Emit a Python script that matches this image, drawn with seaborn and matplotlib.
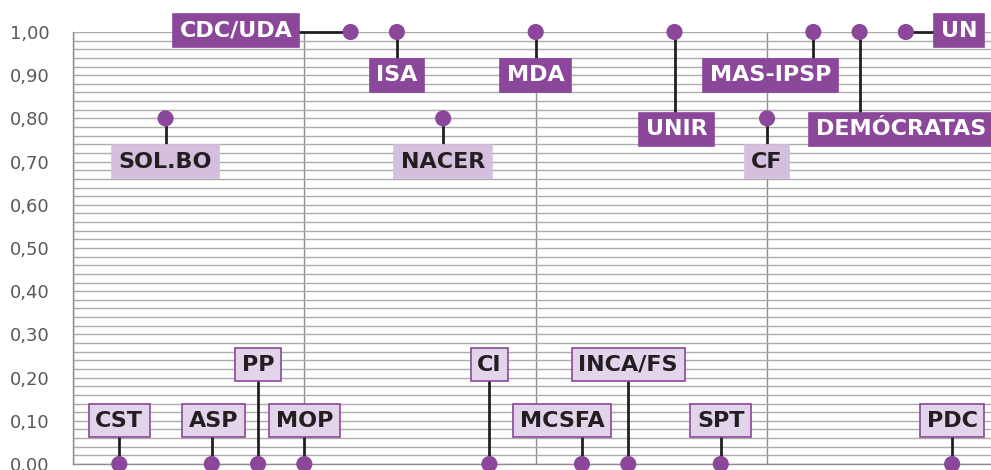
import matplotlib
matplotlib.use("Agg")
import numpy as np
import pandas as pd
import matplotlib.pyplot as plt
import seaborn as sns
from matplotlib.ticker import MultipleLocator, FuncFormatter

# data
parties = ["CST", "SOL.BO", "ASP", "PP", "MOP", "CDC/UDA", "ISA", "NACER", "CI", "MDA",
           "MCSFA", "INCA/FS", "UNIR", "SPT", "CF", "MAS-IPSP", "DEMÓCRATAS", "UN", "PDC"]
position = list(range(1, 20))
score = [0.00, 0.80, 0.00, 0.00, 0.00, 1.00, 1.00, 0.80, 0.00, 1.00,
         0.00, 0.00, 1.00, 0.00, 0.80, 1.00, 1.00, 1.00, 0.00]

# where each label box sits (layout only)
label_x = [1, 2, 3.03, 4, 5, 3.52, 7, 8, 9, 10,
           10.57, 12, 13.05, 14, 15, 15.07, 17.9, 19.15, 19]
label_y = [0.10, 0.70, 0.10, 0.23, 0.10, 1.003, 0.90, 0.70, 0.23, 0.90,
           0.10, 0.23, 0.775, 0.10, 0.70, 0.90, 0.775, 1.003, 0.10]

df = pd.DataFrame({"party": parties, "x": position, "score": score,
                   "lx": label_x, "ly": label_y})

PURPLE = "#8b4799"
MID = "#d5bfdf"
LIGHT = "#e2d4ea"

sns.set_style("white")
plt.rcParams["font.family"] = ["DejaVu Sans"]

fig = plt.figure(figsize=(9.91, 4.70), dpi=100)
ax = fig.add_axes([73 / 991, 1 - 464 / 470, 1 - 73 / 991, (464 - 32) / 470])

ax.set_xlim(0, 19.84)
ax.set_ylim(0, 1.0)

# grid
ax.yaxis.set_minor_locator(MultipleLocator(0.02))
ax.yaxis.set_major_locator(MultipleLocator(0.10))
ax.xaxis.set_major_locator(MultipleLocator(5))
ax.grid(True, which="minor", axis="y", color="#ababab", lw=1.0)
ax.grid(True, which="major", axis="y", color="#ababab", lw=1.0)
ax.grid(True, which="major", axis="x", color="#8c8c8c", lw=1.0)
ax.set_axisbelow(True)
for side in ["top", "right"]:
    ax.spines[side].set_visible(False)
for side in ["left", "bottom"]:
    ax.spines[side].set_color("#8c8c8c")
    ax.spines[side].set_linewidth(1.0)

ax.yaxis.set_major_formatter(FuncFormatter(lambda v, p: f"{v:.2f}".replace(".", ",")))
ax.tick_params(axis="y", which="both", length=0, pad=17, labelsize=13, labelcolor="#595959")
ax.tick_params(axis="x", which="both", length=0, labelbottom=False)

# connectors
for _, r in df.iterrows():
    if abs(r["ly"] - r["score"]) > 0.02:
        ax.plot([r["x"], r["x"]], [r["score"], r["ly"]], color="#231f20", lw=2.0,
                zorder=2, clip_on=False)
    else:
        ax.plot([r["x"], r["lx"]], [r["score"], r["score"]], color="#231f20", lw=2.0,
                zorder=2, clip_on=False)

sns.scatterplot(data=df, x="x", y="score", ax=ax, s=135, color=PURPLE,
                edgecolor="none", zorder=4, clip_on=False, legend=False)
ax.set_xlabel("")
ax.set_ylabel("")

# label boxes
for _, r in df.iterrows():
    if r["score"] >= 0.95:
        fc, ec, tc = PURPLE, PURPLE, "white"
    elif r["score"] >= 0.5:
        fc, ec, tc = MID, MID, "#231f20"
    else:
        fc, ec, tc = LIGHT, PURPLE, "#231f20"
    ax.text(r["lx"], r["ly"], r["party"], ha="center", va="center",
            fontsize=16, fontweight="bold", color=tc, zorder=5, clip_on=False,
            bbox=dict(boxstyle="square,pad=0.3", fc=fc, ec=ec, lw=1.2))

fig.savefig("out.png", dpi=100)
